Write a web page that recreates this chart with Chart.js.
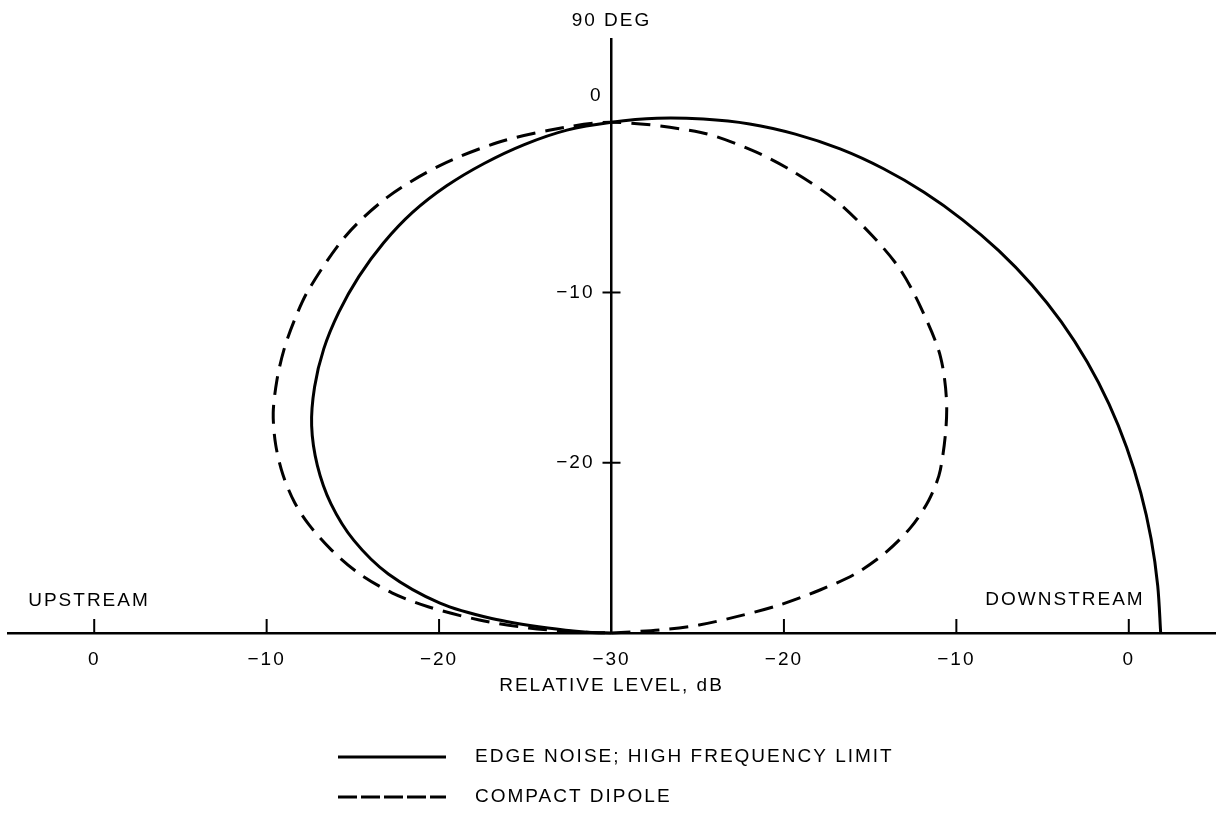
<!DOCTYPE html>
<html lang="en">
<head>
<meta charset="utf-8" />
<script src="https://cdn.jsdelivr.net/npm/chart.js@4.4.1/dist/chart.umd.min.js"></script>
<style>
  html, body { margin: 0; padding: 0; background: #fff; }
  #grafico { display: block; }
</style>
<title>Directivity: edge noise vs compact dipole</title>
</head>
<body>
<canvas id="grafico" width="1224" height="815"></canvas>
<script>
// angles in degrees measured from the downstream axis (0 = downstream, 180 = upstream)
// levels in dB
const edgeAngles = [0, 5, 10, 15, 20, 25, 30, 35, 40, 45, 50, 55, 60, 65, 70, 75, 80, 85, 90, 95, 100, 105, 110, 115, 120, 125, 130, 135, 140, 145, 150, 155, 160, 165, 170, 173, 175.5, 178, 180];
const edgeLevels = [1.85, 1.8, 1.78, 1.78, 1.8, 1.83, 1.85, 1.85, 1.82, 1.76, 1.68, 1.6, 1.5, 1.37, 1.18, 0.95, 0.65, 0.35, 0, -0.35, -0.87, -1.45, -2.05, -2.73, -3.55, -4.45, -5.4, -6.4, -7.52, -8.77, -10.3, -12.05, -14.1, -16.6, -19.9, -23.0, -26.3, -28.6, -30];

const dipoleAngles = [0, 3.7, 5.3, 7.7, 9.6, 11.8, 13.8, 16.5, 19.6, 23, 26.7, 34, 40.4, 47, 52, 57, 63, 69, 74, 80, 90, 97, 103, 110, 117, 123.5, 131, 135, 138.8, 142.5, 146.6, 150.4, 154, 157.4, 160.1, 163.3, 166.5, 169.5, 171.8, 174.3, 176.5, 178.2, 180];
const dipoleLevels = [-30, -27.2, -24.9, -22.5, -20.1, -17.65, -15.45, -13.45, -11.6, -10.0, -8.65, -6.55, -4.95, -3.75, -2.85, -2.2, -1.45, -0.9, -0.5, -0.15, 0, -0.25, -0.45, -0.8, -1.3, -2.05, -3.25, -4.0, -4.75, -5.55, -6.5, -7.6, -8.8, -10.1, -11.35, -13.05, -14.9, -17.05, -19.3, -22.3, -25.2, -28.1, -30];

const seriesNames = ["EDGE NOISE; HIGH FREQUENCY LIMIT", "COMPACT DIPOLE"];

// level at the plot origin, and tick positions (dB from origin)
const centerLevel = -30;
const xTicks = [-30, -20, -10, 0, 10, 20, 30];
const yTicks = [10, 20, 30];

const fam = "'Liberation Sans', Arial, sans-serif";
const fontPx = 19;

// polar (angle, level) -> x/y in dB from the origin
function toXY(angles, levels) {
    return angles.map((a, i) => {
        const r = levels[i] - centerLevel;
        const t = a * Math.PI / 180;
        return { x: r * Math.cos(t), y: r * Math.sin(t) };
    });
}

function dbLabel(v) {
    return v < 0 ? "\u2212" + Math.abs(v) : String(v);
}

// extra drawing: tick marks, y labels, side labels and legend
const extras = {
    id: "extras",
    beforeLayout(chart) { chart.ctx.letterSpacing = "2px"; },
    beforeDraw(chart) { chart.ctx.letterSpacing = "2px"; },
    afterDraw(chart) {
        const ctx = chart.ctx;
        const xs = chart.scales.x;
        const ys = chart.scales.y;
        const x0 = xs.getPixelForValue(0);
        const y0 = ys.getPixelForValue(0);
        ctx.save();
        ctx.strokeStyle = "#000";
        ctx.fillStyle = "#000";
        ctx.lineWidth = 2;
        xTicks.forEach(v => {
            if (v === 0) return;
            const px = xs.getPixelForValue(v);
            ctx.beginPath();
            ctx.moveTo(px, y0);
            ctx.lineTo(px, y0 - 14);
            ctx.stroke();
        });
        ctx.font = fontPx + "px " + fam;
        ctx.textBaseline = "middle";
        ctx.textAlign = "right";
        yTicks.forEach(v => {
            const py = ys.getPixelForValue(v);
            if (v === 30) {
                ctx.fillText(dbLabel(v + centerLevel), x0 - 9, py - 26);
                return;
            }
            ctx.beginPath();
            ctx.moveTo(x0 - 9, py);
            ctx.lineTo(x0 + 9, py);
            ctx.stroke();
            ctx.fillText(dbLabel(v + centerLevel), x0 - 17, py);
        });

        ctx.textAlign = "center";
        ctx.fillText("UPSTREAM", 89, 601);
        ctx.fillText("DOWNSTREAM", 1065, 600);

        // legend
        chart.data.datasets.forEach((ds, i) => {
            const y = 757 + i * 40;
            ctx.lineWidth = 3;
            ctx.setLineDash(ds.borderDash ? [19, 4] : []);
            ctx.beginPath();
            ctx.moveTo(338, y);
            ctx.lineTo(446, y);
            ctx.stroke();
            ctx.setLineDash([]);
            ctx.textAlign = "left";
            ctx.fillText(ds.label, 475, y);
        });
        ctx.restore();
    }
};

new Chart(document.getElementById("grafico").getContext("2d"), {
    type: "scatter",
    data: {
        datasets: [
            {
                label: seriesNames[0],
                data: toXY(edgeAngles, edgeLevels),
                showLine: true,
                borderColor: "#000",
                borderWidth: 3,
                pointRadius: 0,
                tension: 0.3,
                clip: false
            },
            {
                label: seriesNames[1],
                data: toXY(dipoleAngles, dipoleLevels),
                showLine: true,
                borderColor: "#000",
                borderWidth: 3,
                borderDash: [19, 10],
                pointRadius: 0,
                tension: 0.3,
                clip: false
            }
        ]
    },
    options: {
        responsive: false,
        animation: false,
        events: [],
        layout: { padding: { left: 8, right: 9, top: 0, bottom: 0 } },
        plugins: {
            legend: { display: false },
            tooltip: { enabled: false },
            title: {
                display: true,
                text: "90 DEG",
                color: "#000",
                font: { family: fam, size: fontPx, weight: "normal" },
                padding: { top: 9, bottom: 7 }
            }
        },
        scales: {
            x: {
                type: "linear",
                min: -35.0,
                max: 35.0,
                afterBuildTicks: s => { s.ticks = xTicks.map(v => ({ value: v })); },
                afterFit: s => { s.height = 182; },
                grid: { display: false, drawTicks: false },
                border: { display: true, color: "#000", width: 2.5 },
                ticks: {
                    color: "#000",
                    font: { family: fam, size: fontPx },
                    padding: 15,
                    maxRotation: 0,
                    callback: v => dbLabel(Math.abs(v) + centerLevel)
                },
                title: {
                    display: true,
                    text: "RELATIVE LEVEL, dB",
                    color: "#000",
                    font: { family: fam, size: fontPx },
                    padding: { top: 0, bottom: 118 }
                }
            },
            y: {
                type: "linear",
                min: 0,
                max: 34.9,
                position: { x: 0 },
                afterBuildTicks: s => { s.ticks = yTicks.map(v => ({ value: v })); },
                grid: { display: false, drawTicks: false },
                border: { display: true, color: "#000", width: 2.5 },
                ticks: { display: false }
            }
        }
    },
    plugins: [extras]
});
</script>
</body>
</html>
